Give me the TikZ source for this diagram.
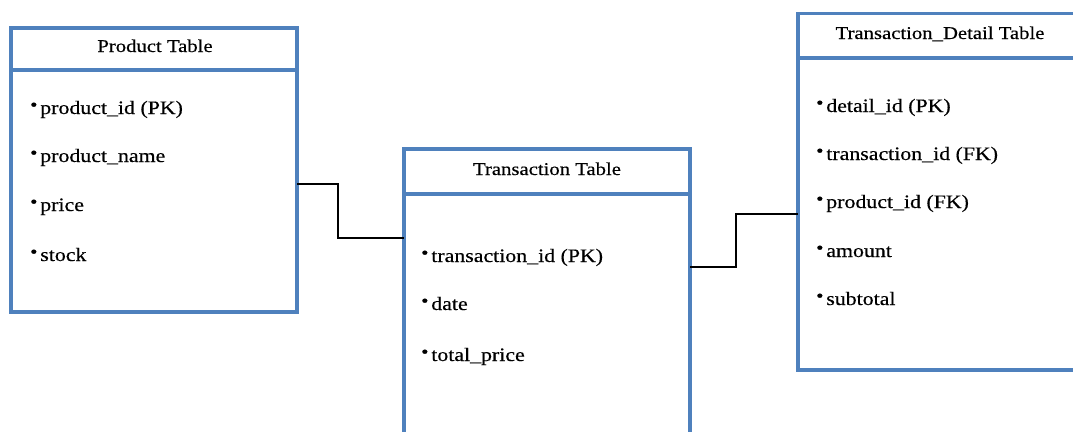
\documentclass[tikz,border=0pt]{standalone}
\usepackage{fontspec}
\setmainfont{Liberation Serif}[FakeStretch=1.15,FakeBold=0.4]
\definecolor{tblue}{HTML}{4F81BD}
\newcommand{\bul}{\raisebox{0.38ex}{\scalebox{0.95}{\textbullet}}\hspace{0.15em}}
\begin{document}
\begin{tikzpicture}[x=1pt,y=-1pt,
  tbl/.style={draw=tblue, line width=3.4pt, anchor=north west, inner sep=0pt, outer sep=0pt},
  tline/.style={draw=tblue, line width=3.4pt},
  ttl/.style={font=\fontsize{18}{20}\selectfont, anchor=base, inner sep=0pt},
  row/.style={font=\fontsize{19}{22}\selectfont, anchor=base west, inner sep=0pt},
  conn/.style={draw=black, line width=1.7pt}]
\useasboundingbox (0,0) rectangle (1073,431);
\clip (0,0) rectangle (1073,431);
\fill[white] (0,0) rectangle (1073,431);

% Product table
\node[tbl, minimum width=286pt, minimum height=284pt] (prod) at (11,28) {};
\draw[tline] (prod.west |- 0,70) -- (prod.east |- 0,70);
\node[ttl] (prodT) at (155,52) {Product Table};
\node[row] (p1) at (30,114) {\bul product\_id (PK)};
\node[row] (p2) at (30,162) {\bul product\_name};
\node[row] (p3) at (30,211) {\bul price};
\node[row] (p4) at (30,261) {\bul stock};

% Transaction table
\node[tbl, minimum width=286pt, minimum height=320pt] (trans) at (404,149) {};
\draw[tline] (trans.west |- 0,194) -- (trans.east |- 0,194);
\node[ttl] (transT) at (547,175) {Transaction Table};
\node[row] (t1) at (421,262) {\bul transaction\_id (PK)};
\node[row] (t2) at (421,310) {\bul date};
\node[row] (t3) at (421,361) {\bul total\_price};

% Transaction_Detail table
\node[tbl, minimum width=300pt, minimum height=356.5pt] (det) at (798,13.5) {};
\draw[tline] (det.west |- 0,58) -- (det.east |- 0,58);
\node[ttl] (detT) at (940,39) {Transaction\_Detail Table};
\node[row] (d1) at (816,112) {\bul detail\_id (PK)};
\node[row] (d2) at (816,160) {\bul transaction\_id (FK)};
\node[row] (d3) at (816,208) {\bul product\_id (FK)};
\node[row] (d4) at (816,257) {\bul amount};
\node[row] (d5) at (816,305) {\bul subtotal};

% Connectors
\coordinate (k1) at (338,184);
\coordinate (k2) at (338,238);
\coordinate (k3) at (736,267);
\coordinate (k4) at (736,214);
\draw[conn] (prod.east |- k1) -- (k1) -- (k2) -- (trans.west |- k2);
\draw[conn] (trans.east |- k3) -- (k3) -- (k4) -- (det.west |- k4);
\end{tikzpicture}
\end{document}
